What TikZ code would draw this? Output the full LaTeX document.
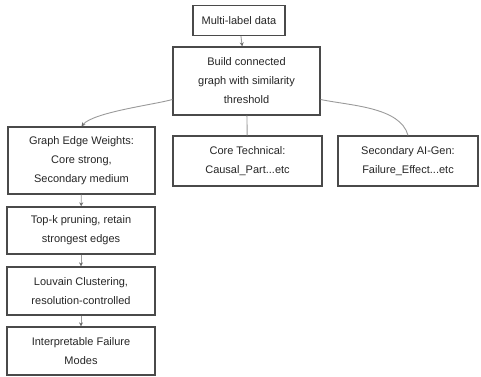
\documentclass[tikz,border=0pt]{standalone}
\usepackage{fontspec}
\setmainfont{Liberation Sans}
\usepackage{xcolor}
\usepackage{tikz}
\usetikzlibrary{
  arrows.meta,
  positioning,
  calc
}
\definecolor{flBorder}{HTML}{4A4A4A}
\definecolor{flLink}{HTML}{9A9A9A}
\definecolor{flTip}{HTML}{6E6E6E}
\tikzset{
  flnode/.style={
    draw=flBorder, line width=1.3pt, fill=white, font=\fontsize{11}{19}\selectfont,
    align=center, inner sep=0pt, text=black!85
  },
  flstep/.style={flnode, minimum width=148pt, minimum height=48pt},
  flbranch/.style={flnode, minimum height=50pt},
  link/.style={line width=0.9pt, flLink},
  arrowlink/.style={link, -{Stealth[length=4pt, width=4pt, flTip]}}
}
\begin{document}
\begin{tikzpicture}[x=1pt, y=-1pt]
  \useasboundingbox (0,0) rectangle (481,376);
  % top of the flow
  \node[flnode, minimum width=92pt, minimum height=30pt] (data) at (239,20.5) {Multi-label data};
  \node[flnode, minimum width=147pt, minimum height=68pt] (build) at (246.5,81)
    {Build connected\\graph with similarity\\threshold};
  % three branches
  \node[flnode, minimum width=147pt, minimum height=67pt] (weights) at (81.5,160.5)
    {Graph Edge Weights:\\Core strong,\\Secondary medium};
  \node[flbranch, minimum width=149pt] (core) at (247.5,161) {Core Technical:\\Causal\_Part...etc};
  \node[flbranch, minimum width=140pt] (second) at (408,161) {Secondary AI-Gen:\\Failure\_Effect...etc};
  % pipeline on the left
  \node[flstep, minimum height=47pt] (topk) at (81,230.5) {Top-k pruning, retain\\strongest edges};
  \node[flstep] (louvain) at (81,291) {Louvain Clustering,\\resolution-controlled};
  \node[flstep] (interp) at (81,351) {Interpretable Failure\\Modes};

  \draw[arrowlink] (build.194) to[out=196, in=50, looseness=0.5] (weights.north);
  \draw[arrowlink] (data) -- (build);
  \draw[link] (build) -- (core);
  \draw[link] (build.346) to[out=-12, in=105, looseness=0.8] (second.north);
  \draw[arrowlink] (weights) -- (topk);
  \draw[arrowlink] (topk) -- (louvain);
  \draw[arrowlink] (louvain) -- (interp);
\end{tikzpicture}
\end{document}
